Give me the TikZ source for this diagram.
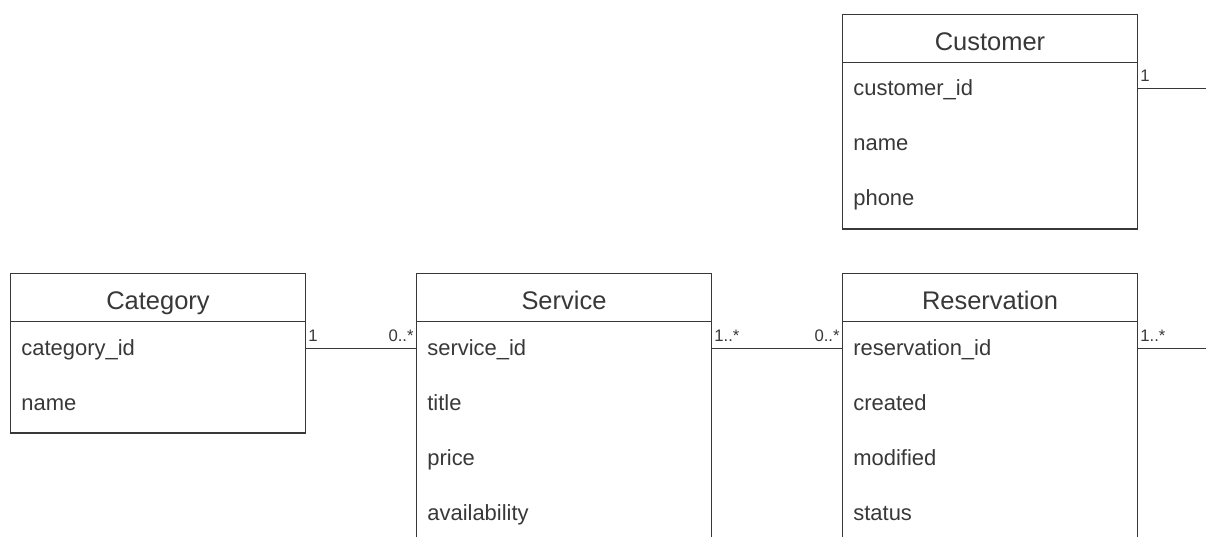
\documentclass[tikz,border=0pt]{standalone}
\usepackage{fontspec}
\setmainfont{Liberation Sans}
\usetikzlibrary{positioning}
\definecolor{umlgray}{HTML}{383838}
\tikzset{
  chead/.style={draw=umlgray, line width=0.9pt, rectangle, minimum width=5.9cm, minimum height=0.96cm, inner sep=0pt, outer sep=0pt, anchor=north west, text=umlgray, font=\fontsize{14.5}{17}\selectfont, text height=14pt, text depth=0pt},
  cbody/.style={draw=umlgray, line width=0.9pt, rectangle, minimum width=5.9cm, inner sep=0pt, outer sep=0pt},
  attr/.style={anchor=base west, inner sep=0pt, text=umlgray, font=\fontsize{12.5}{15}\selectfont, text height=9.6pt, text depth=2pt},
  mult/.style={text=umlgray, font=\fontsize{9.5}{11}\selectfont, inner xsep=1.2pt, inner ysep=3.2pt},
  conn/.style={draw=umlgray, line width=0.9pt},
}
\begin{document}
\begin{tikzpicture}[x=0.02cm, y=-0.02cm]

\useasboundingbox (0,0) rectangle (1206,537);
\clip (0,0) rectangle (1206,537);

% class boxes
\node[chead] (custHead) at (842.5,14.5) {Customer};
\node[cbody, minimum height=3.33cm, below=0pt of custHead] (custBody) {};

\node[chead] (catHead) at (10.5,273.5) {Category};
\node[cbody, minimum height=2.23cm, below=0pt of catHead] (catBody) {};

\node[chead] (srvHead) at (416.5,273.5) {Service};
\node[cbody, minimum height=4.6cm, below=0pt of srvHead] (srvBody) {};

\node[chead] (resHead) at (842.5,273.5) {Reservation};
\node[cbody, minimum height=4.6cm, below=0pt of resHead] (resBody) {};

% attributes
\node[attr] (custId) at (853,95) {customer\_id};
\node[attr] (custName) at (853,150) {name};
\node[attr] (custPhone) at (853,205) {phone};

\node[attr] (catId) at (21,355) {category\_id};
\node[attr] (catName) at (21,410) {name};

\node[attr] (srvId) at (427,355) {service\_id};
\node[attr] (srvTitle) at (427,410) {title};
\node[attr] (srvPrice) at (427,465) {price};
\node[attr] (srvAvail) at (427,520) {availability};

\node[attr] (resId) at (853,355) {reservation\_id};
\node[attr] (resCreated) at (853,410) {created};
\node[attr] (resModified) at (853,465) {modified};
\node[attr] (resStatus) at (853,520) {status};

% associations
\coordinate (rightRail) at (1207,0);

\draw[conn] (catHead.east |- catId) node[mult, anchor=south west] {1}
  -- (srvHead.west |- srvId) node[mult, anchor=south east] {0..*};
\draw[conn] (srvHead.east |- srvId) node[mult, anchor=south west] {1..*}
  -- (resHead.west |- resId) node[mult, anchor=south east] {0..*};
\draw[conn] (custHead.east |- custId) node[mult, anchor=south west] {1}
  -- (rightRail |- custId) -- (rightRail |- resId)
  -- (resHead.east |- resId) node[mult, anchor=south west] {1..*};

\end{tikzpicture}
\end{document}
